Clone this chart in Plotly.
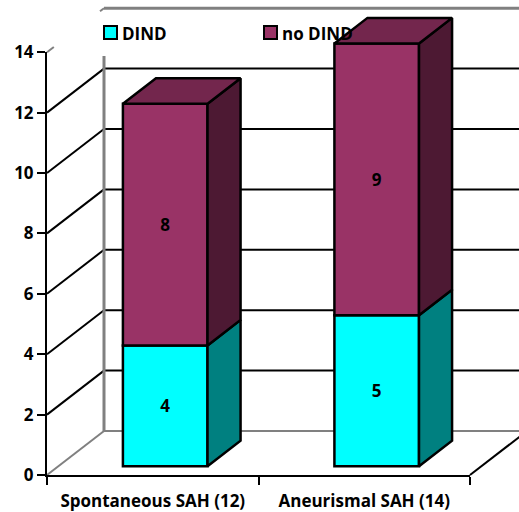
import plotly.graph_objects as go

# Chart data
categories = ["Spontaneous SAH (12)", "Aneurismal SAH (14)"]
dind = [4, 5]
no_dind = [8, 9]
y_ticks = [0, 2, 4, 6, 8, 10, 12, 14]
series_names = ["DIND", "no DIND"]

# Figure size and pseudo-3D projection settings
W, H = 519, 512
FONT = "Open Sans"
FONT_SIZE = 17
PX_X = 211.5          # pixels per category
PX_Y = 30.2           # pixels per y unit
X0_PX, Y0_PX = 152.75, 475
DEPTH_X = 57 / PX_X   # full depth of the box in data units
DEPTH_Y = 44 / PX_Y
BAR_FRONT, BAR_BACK = 0.2, 0.78
BAR_WIDTH = 0.4
BAR_SHIFT = 0.005     # small sideways offset of the bars inside each category
BAR_LINE = 2.5
LEFT, RIGHT = -0.5, 1.5
TOP = y_ticks[-1]
GREY = "#808080"
BLACK = "#000000"


def project(x, y, d):
    """Oblique projection of a point at depth d (0 front, 1 back)."""
    return x + d * DEPTH_X, y + d * DEPTH_Y


def seg(p, q, color=BLACK, width=2):
    return dict(type="line", xref="x", yref="y", layer="below",
                x0=p[0], y0=p[1], x1=q[0], y1=q[1],
                line=dict(color=color, width=width))


shapes = []
# Floor edges
shapes.append(seg(project(LEFT, 0, 0), project(LEFT, 0, 1), GREY))
shapes.append(seg(project(LEFT, 0, 1), project(RIGHT, 0, 1), GREY))
shapes.append(seg(project(RIGHT, 0, 0), project(RIGHT, 0, 1), BLACK))
# Gridlines on the left and back walls
for v in y_ticks[1:-1]:
    shapes.append(seg(project(LEFT, v, 0), project(LEFT, v, 1)))
    shapes.append(seg(project(LEFT, v, 1), project(RIGHT, v, 1)))
# Wall outline, interrupted behind the legend box
shapes.append(seg(project(LEFT, 0, 1), project(LEFT, 12.42, 1), GREY, 3))
shapes.append(seg(project(LEFT, TOP, 0), project(LEFT, TOP, 0.12), GREY))
shapes.append(seg(project(LEFT, TOP, 0.93), project(LEFT, TOP, 1), GREY))
shapes.append(seg(project(LEFT, TOP, 1), project(RIGHT, TOP, 1), GREY, 3))

fig = go.Figure()

# Front faces of the stacked bars
floor_x, floor_y = project(BAR_SHIFT, 0, BAR_FRONT)
positions = [i + floor_x for i in range(len(categories))]
fig.add_trace(go.Bar(
    x=positions, y=dind, base=[floor_y] * len(dind), width=BAR_WIDTH,
    name=series_names[0], text=dind, textposition="inside", insidetextanchor="middle",
    textangle=0, constraintext="none",
    textfont=dict(family=FONT, size=FONT_SIZE, color=BLACK, weight="bold"),
    marker=dict(color="#00FFFF", line=dict(color=BLACK, width=BAR_LINE)),
))
fig.add_trace(go.Bar(
    x=positions, y=no_dind, base=[floor_y + v for v in dind], width=BAR_WIDTH,
    name=series_names[1], text=no_dind, textposition="inside", insidetextanchor="middle",
    textangle=0, constraintext="none",
    textfont=dict(family=FONT, size=FONT_SIZE, color=BLACK, weight="bold"),
    marker=dict(color="#993366", line=dict(color=BLACK, width=BAR_LINE)),
))


def face(points, color):
    xs, ys = zip(*(points + points[:1]))
    fig.add_trace(go.Scatter(
        x=xs, y=ys, mode="lines", fill="toself", fillcolor=color,
        line=dict(color=BLACK, width=BAR_LINE), hoverinfo="skip", cliponaxis=False,
    ))


# Side and top faces of each bar
for i in range(len(categories)):
    xr = i + BAR_SHIFT + BAR_WIDTH / 2
    xl = i + BAR_SHIFT - BAR_WIDTH / 2
    low, mid, high = 0, dind[i], dind[i] + no_dind[i]
    face([project(xr, low, BAR_FRONT), project(xr, low, BAR_BACK),
          project(xr, mid, BAR_BACK), project(xr, mid, BAR_FRONT)], "#008080")
    face([project(xr, mid, BAR_FRONT), project(xr, mid, BAR_BACK),
          project(xr, high, BAR_BACK), project(xr, high, BAR_FRONT)], "#4D1933")
    face([project(xl, high, BAR_FRONT), project(xr, high, BAR_FRONT),
          project(xr, high, BAR_BACK), project(xl, high, BAR_BACK)], "#73264D")

# Empty trace that brings the front axes into the figure
fig.add_trace(go.Scatter(x=[0], y=[0], xaxis="x2", yaxis="y2", mode="markers",
                         marker=dict(opacity=0), hoverinfo="skip"))

# Legend swatches and labels
legend_items = [(series_names[0], "#00FFFF", 104), (series_names[1], "#993366", 264)]
annotations = []
for name, color, left in legend_items:
    shapes.append(dict(type="rect", xref="paper", yref="paper", layer="above",
                       x0=left / W, x1=(left + 13) / W,
                       y0=1 - 39 / H, y1=1 - 26 / H,
                       fillcolor=color, line=dict(color=BLACK, width=2)))
    annotations.append(dict(xref="paper", yref="paper", x=(left + 16) / W, y=1 - 33 / H,
                            text=f"<b>{name}</b>", showarrow=False,
                            xanchor="left", yanchor="middle",
                            font=dict(family=FONT, size=FONT_SIZE, color=BLACK)))

tick_font = dict(family=FONT, size=FONT_SIZE, color=BLACK, weight="bold")
fig.update_layout(
    width=W, height=H, margin=dict(l=0, r=0, t=0, b=0, autoexpand=False),
    paper_bgcolor="white", plot_bgcolor="rgba(0,0,0,0)",
    barmode="overlay", showlegend=False, shapes=shapes, annotations=annotations,
    xaxis=dict(domain=[0, 1], range=[-X0_PX / PX_X, (W - X0_PX) / PX_X], visible=False),
    yaxis=dict(domain=[0, 1], range=[(Y0_PX - H) / PX_Y, Y0_PX / PX_Y], visible=False),
    xaxis2=dict(
        domain=[(X0_PX + LEFT * PX_X) / W, (X0_PX + RIGHT * PX_X) / W],
        range=[LEFT, RIGHT], anchor="y2", showgrid=False, zeroline=False, automargin=False,
        showline=True, linecolor=BLACK, linewidth=2,
        tickmode="array", tickvals=list(range(len(categories))), ticktext=categories,
        ticks="", tickfont=tick_font, ticklabelstandoff=10,
        minor=dict(tick0=LEFT, dtick=1, ticks="outside", ticklen=8, tickwidth=2,
                   tickcolor=BLACK, showgrid=False),
    ),
    yaxis2=dict(
        domain=[(H - Y0_PX) / H, (H - Y0_PX + TOP * PX_Y) / H],
        range=[0, TOP], anchor="x2", showgrid=False, zeroline=False, automargin=False,
        showline=True, linecolor=BLACK, linewidth=2,
        tickmode="array", tickvals=y_ticks, ticks="outside", ticklen=8, tickwidth=2,
        tickcolor=BLACK, tickfont=tick_font,
    ),
)

fig.write_html("out.html")
